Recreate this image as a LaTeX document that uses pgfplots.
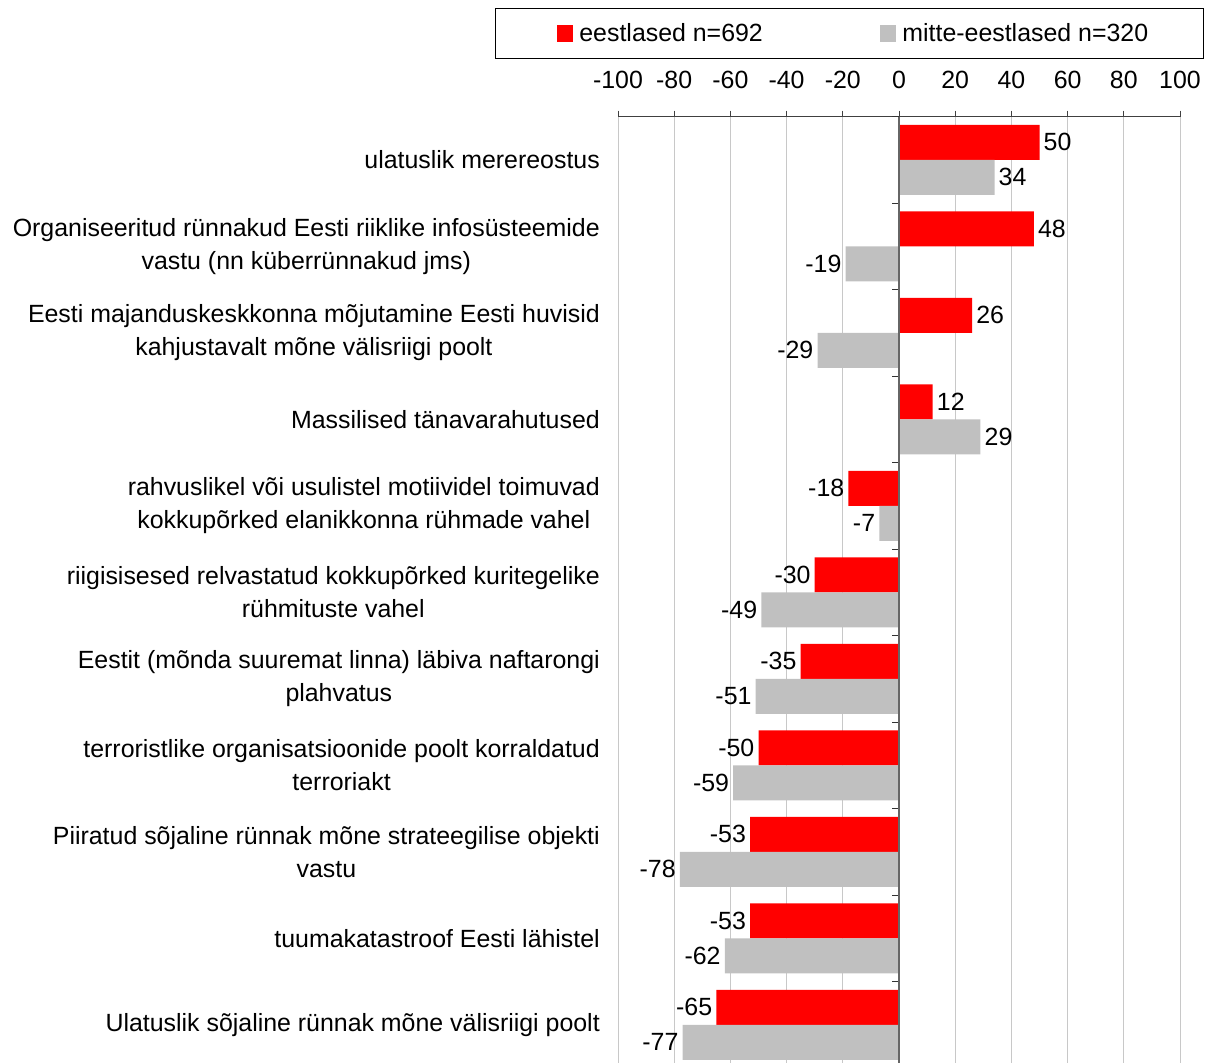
\documentclass[border=0pt]{standalone}
\usepackage{pgfplots}
\pgfplotsset{compat=1.18}
\usepackage{fontspec}
\setmainfont{Liberation Sans}
\definecolor{barred}{HTML}{FF0000}
\definecolor{bargray}{HTML}{C0C0C0}
\definecolor{gridgray}{HTML}{C8C8C8}
\newcommand{\lbl}{\fontsize{25}{33}\selectfont}

\pgfplotsset{
  sq legend/.style={legend image code/.code={\fill[##1] (0bp,-8.5bp) rectangle (16bp,8.5bp);}},
  common/.style={
    at={(618bp,-5bp)}, anchor=south west,
    scale only axis, width=562bp, height=951.5bp,
    xmin=-100, xmax=100, ymin=-0.5, ymax=10.5, y dir=reverse,
  },
}

\begin{document}
\begin{tikzpicture}
\useasboundingbox (0,0) rectangle (1211bp,1063bp);
\begin{axis}[
  common,
  xbar, bar width=35bp,
  axis x line*=top, axis y line*=left,
  y axis line style={draw=none},
  x axis line style={draw=black!75, line width=0.8bp},
  xtick={-100,-80,...,100},
  xtick style={draw=black!75, line width=0.8bp},
  major tick length=6bp, tick align=outside,
  xmajorgrids, grid style={draw=gridgray, line width=1bp},
  ytick={0,...,10}, ytick style={draw=none},
  yticklabels={
    ulatuslik merereostus,
    Organiseeritud rünnakud Eesti riiklike infosüsteemide\\vastu (nn küberrünnakud jms),
    Eesti majanduskeskkonna mõjutamine Eesti huvisid\\kahjustavalt mõne välisriigi poolt,
    Massilised tänavarahutused,
    rahvuslikel või usulistel motiividel toimuvad\\kokkupõrked elanikkonna rühmade vahel,
    riigisisesed relvastatud kokkupõrked kuritegelike\\rühmituste vahel,
    Eestit (mõnda suuremat linna) läbiva naftarongi\\plahvatus,
    terroristlike organisatsioonide poolt korraldatud\\terroriakt,
    Piiratud sõjaline rünnak mõne strateegilise objekti\\vastu,
    tuumakatastroof Eesti lähistel,
    Ulatuslik sõjaline rünnak mõne välisriigi poolt},
  yticklabel style={font=\lbl, align=center, anchor=east, inner sep=0pt, xshift=-12bp},
  xticklabel style={font=\lbl, yshift=18bp},
  /pgf/number format/assume math mode=true,
  nodes near coords, nodes near coords align=horizontal,
  every node near coord/.append style={font=\lbl, black, inner sep=4bp},
  legend columns=2,
  legend style={at={(-0.21886,1.1140)}, anchor=north west, draw=black, line width=0.8bp,
    inner xsep=62bp, inner ysep=15bp, font=\lbl, nodes={inner sep=0pt},
    /tikz/every odd column/.style={column sep=6bp},
    /tikz/every even column/.style={column sep=10bp}},
]
\addplot[fill=barred, draw=none, bar shift=17.5bp, sq legend] coordinates {
  (50,0) (48,1) (26,2) (12,3) (-18,4) (-30,5) (-35,6) (-50,7) (-53,8) (-53,9) (-65,10)};
\addplot[fill=bargray, draw=none, bar shift=-17.5bp, sq legend] coordinates {
  (34,0) (-19,1) (-29,2) (29,3) (-7,4) (-49,5) (-51,6) (-59,7) (-78,8) (-62,9) (-77,10)};
\legend{\makebox[291bp][l]{eestlased n=692},\makebox[239bp][l]{mitte-eestlased n=320}}
\end{axis}
\begin{axis}[
  common,
  axis x line=none, axis y line=middle,
  y axis line style={draw=black!60, line width=1.2bp, -},
  ytick={-0.5,0.5,...,10.5}, yticklabels={},
  ytick style={draw=black!80, line width=0.8bp},
  major tick length=7bp, tick align=outside,
]
\addplot[draw=none] coordinates {(0,0)};
\end{axis}
\end{tikzpicture}
\end{document}
